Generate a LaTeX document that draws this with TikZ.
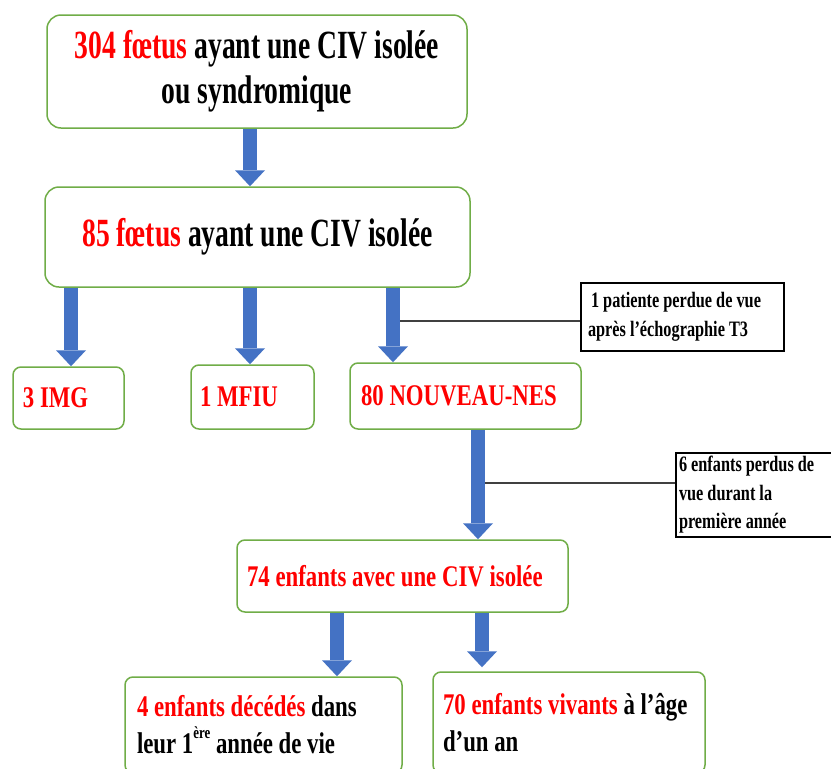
\documentclass[tikz,border=0pt]{standalone}
\usepackage{fontspec}
\setmainfont{Liberation Serif}
\newfontfamily\fbig[FakeStretch=0.69]{Liberation Serif}
\newfontfamily\fmid[FakeStretch=0.76]{Liberation Serif}
\newfontfamily\fsmall[FakeStretch=0.74]{Liberation Serif}
\usetikzlibrary{arrows.meta}
\definecolor{boxgreen}{HTML}{70AD47}
\definecolor{arrowblue}{HTML}{4472C4}
\definecolor{txtred}{HTML}{FF0000}
\definecolor{leadgray}{HTML}{404040}
\tikzset{
  box/.style={draw=boxgreen, line width=1.5pt, rounded corners=8pt, fill=white, inner sep=0pt},
  bigtext/.style={font=\fbig\bfseries\fontsize{40}{45}\selectfont, align=flush center},
  midtext/.style={font=\fmid\bfseries\fontsize{30}{37}\selectfont, align=flush left},
  note/.style={draw=black, line width=1.8pt, fill=white, inner sep=0pt,
    font=\fsmall\bfseries\fontsize{22}{28.5}\selectfont, align=flush left},
  flow/.style={draw=arrowblue, line width=14pt,
    -{Triangle[width=30pt,length=16pt,line width=0pt]}},
  lead/.style={draw=leadgray, line width=1.8pt},
}
\begin{document}
\begin{tikzpicture}[x=1pt,y=-1pt]
\useasboundingbox (0,0) rectangle (831,769);
\clip (0,0) rectangle (831,769);
\fill[white] (0,0) rectangle (831,769);

% boxes
\node[box, bigtext, rounded corners=14pt, minimum width=420pt, minimum height=113pt] (b1) at (257,71.5)
  {\textcolor{txtred}{304 fœtus} ayant une CIV isolée\\ou syndromique};
\node[box, bigtext, rounded corners=14pt, minimum width=425pt, minimum height=100pt] (b2) at (257.5,237)
  {\textcolor{txtred}{85 fœtus} ayant une CIV isolée};

\node[box, midtext, minimum height=62pt, text width=91pt, inner xsep=10pt] (img) at (68.5,398)
  {\textcolor{txtred}{3 IMG}};
\node[box, midtext, minimum height=64pt, text width=105pt, inner xsep=9pt] (mfiu) at (252.5,397)
  {\textcolor{txtred}{1 MFIU}};
\node[box, midtext, minimum height=66pt, text width=209pt, inner xsep=11pt] (nn) at (465.5,396)
  {\textcolor{txtred}{80 NOUVEAU-NES}};
\node[box, midtext, minimum height=72pt, text width=311pt, inner xsep=10pt] (e74) at (402.5,576)
  {\textcolor{txtred}{74 enfants avec une CIV isolée}};
\node[box, midtext, minimum height=96pt, text width=253pt, inner xsep=12pt] (dead) at (263.5,725)
  {\textcolor{txtred}{4 enfants décédés} dans\\leur 1\raisebox{0.5em}{\fontsize{17}{17}\selectfont ère} année de vie};
\node[box, midtext, minimum height=101pt, text width=252pt, inner xsep=10pt] (alive) at (569,722.5)
  {\textcolor{txtred}{70 enfants vivants} à l’âge\\d’un an};

\node[note, minimum width=203pt, minimum height=68pt, text width=189pt, inner xsep=7pt] (c1) at (682.5,317)
  {\hspace{3pt}1 patiente perdue de vue\\après l’échographie T3};
\node[note, minimum width=170pt, minimum height=84pt, text width=164pt, inner xsep=3pt] (c2) at (761,495)
  {6 enfants perdus de\\vue durant la\\première année};

% arrow positions
\coordinate (xA) at (250,0);
\coordinate (xB) at (71,0);
\coordinate (xC) at (250,0);
\coordinate (xD) at (393,0);
\coordinate (xE) at (478,0);
\coordinate (xF) at (337,0);
\coordinate (xG) at (482,0);

\draw[flow] (b1.south -| xA) -- (b2.north -| xA);
\draw[flow] (b2.south -| xB) -- (img.north -| xB);
\draw[flow] (b2.south -| xC) -- (mfiu.north -| xC);
\draw[flow] (b2.south -| xD) -- (nn.north -| xD);
\draw[flow] (nn.south -| xE) -- (e74.north -| xE);
\draw[flow] (e74.south -| xF) -- (dead.north -| xF);
\draw[flow, shorten >=4pt] (e74.south -| xG) -- (alive.north -| xG);

% leader lines
\coordinate (j1) at (400,321);
\coordinate (j2) at (485,483);
\draw[lead] (j1) -- (j1 -| c1.west);
\draw[lead] (j2) -- (j2 -| c2.west);
\end{tikzpicture}
\end{document}
